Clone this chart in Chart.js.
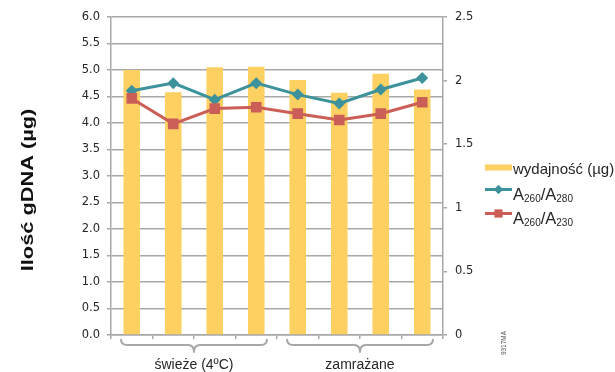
<!DOCTYPE html>
<html lang="pl">
<head>
<meta charset="utf-8">
<title>Ilość gDNA</title>
<script src="https://cdn.jsdelivr.net/npm/chart.js@4/dist/chart.umd.min.js"></script>
<style>
  html, body { margin: 0; padding: 0; background: #ffffff; }
  #wrap { width: 615px; height: 372px; }
</style>
</head>
<body>
<div id="wrap"><canvas id="c" width="615" height="372"></canvas></div>
<script>
// Próbki: 4 świeże (4ºC) i 4 zamrażane
const samples = ['Ś1', 'Ś2', 'Ś3', 'Ś4', 'Z1', 'Z2', 'Z3', 'Z4'];

// Wydajność gDNA (µg) – oś lewa
const yieldUg = [5.00, 4.58, 5.05, 5.06, 4.81, 4.57, 4.93, 4.63];

// Stosunki absorbancji – oś prawa
const ratio260_280 = [1.92, 1.98, 1.85, 1.98, 1.89, 1.82, 1.93, 2.02];
const ratio260_230 = [1.86, 1.66, 1.78, 1.79, 1.74, 1.69, 1.74, 1.83];

// Podpisy grup pod osią X (indeksy pierwszej i ostatniej próbki)
const groupLabels = ['świeże (4ºC)', 'zamrażane'];
const groupFrom = [0, 4];
const groupTo = [3, 7];

const yTitle = 'Ilość gDNA (µg)';
const seriesNames = ['wydajność (µg)', 'A260/A280', 'A260/A230'];

const COL_BAR = '#FDD062';
const COL_TEAL = '#3E929B';
const COL_RED = '#CB5F58';
const COL_AXIS = '#A8A8A8';
const COL_TEXT = '#262626';

Chart.defaults.font.family = '"DejaVu Sans", sans-serif';
Chart.defaults.color = COL_TEXT;

// Legenda z indeksami dolnymi, tytuł osi, klamry grup
const decorations = {
  id: 'decorations',
  afterDraw(chart) {
    const ctx = chart.ctx;
    const x = chart.scales.x;
    const area = chart.chartArea;
    const cat = x.getPixelForValue(1) - x.getPixelForValue(0);

    // klamry i podpisy grup
    ctx.save();
    ctx.strokeStyle = COL_AXIS;
    ctx.lineWidth = 2;
    ctx.lineJoin = 'round';
    const top = area.bottom + 4;
    const mid = area.bottom + 10;
    const tip = area.bottom + 17;
    for (let g = 0; g < groupLabels.length; g++) {
      const x1 = x.getPixelForValue(groupFrom[g]) - cat / 2 + 10;
      const x2 = x.getPixelForValue(groupTo[g]) + cat / 2 - 10;
      const cx = (x1 + x2) / 2;
      ctx.beginPath();
      ctx.moveTo(x1, top);
      ctx.quadraticCurveTo(x1, mid, x1 + 6, mid);
      ctx.lineTo(cx - 6, mid);
      ctx.quadraticCurveTo(cx, mid, cx, tip);
      ctx.quadraticCurveTo(cx, mid, cx + 6, mid);
      ctx.lineTo(x2 - 6, mid);
      ctx.quadraticCurveTo(x2, mid, x2, top);
      ctx.stroke();

      ctx.fillStyle = COL_TEXT;
      ctx.font = '14px "Liberation Sans", Arial, sans-serif';
      ctx.textAlign = 'center';
      ctx.textBaseline = 'alphabetic';
      ctx.fillText(groupLabels[g], cx, 368.5);
    }
    ctx.restore();

    // tytuł osi Y
    ctx.save();
    ctx.translate(28, 190);
    ctx.rotate(-Math.PI / 2);
    ctx.scale(1.28, 1);
    ctx.font = 'bold 17px "Liberation Sans", Arial, sans-serif';
    ctx.fillStyle = '#111111';
    ctx.textAlign = 'center';
    ctx.textBaseline = 'middle';
    ctx.fillText(yTitle, 0, 0);
    ctx.restore();

    // legenda
    ctx.save();
    const lx = 485, lw = 27, tx = 513;
    const ds = chart.data.datasets;
    // słupki
    ctx.fillStyle = ds[0].backgroundColor;
    ctx.fillRect(lx, 164.5, lw, 6);
    ctx.fillStyle = COL_TEXT;
    ctx.font = '15px "Liberation Sans", Arial, sans-serif';
    ctx.textBaseline = 'alphabetic';
    ctx.textAlign = 'left';
    ctx.fillText(ds[0].label, tx, 173.5);

    const rows = [
      { d: ds[1], cy: 189.5, base: 200, style: 'rectRot', r: 4.5 },
      { d: ds[2], cy: 213.5, base: 224, style: 'rect', r: 5.5 }
    ];
    rows.forEach(row => {
      ctx.strokeStyle = row.d.borderColor;
      ctx.lineWidth = 3;
      ctx.beginPath();
      ctx.moveTo(lx, row.cy);
      ctx.lineTo(lx + lw, row.cy);
      ctx.stroke();
      ctx.fillStyle = row.d.borderColor;
      Chart.helpers.drawPoint(ctx, { pointStyle: row.style, radius: row.r, borderWidth: 0 }, lx + lw / 2, row.cy);
      ctx.fill();

      // tekst z indeksami dolnymi: "A260/A280" -> A₂₆₀/A₂₈₀
      const parts = row.d.label.match(/[A-Za-z\/]+|\d+/g);
      let px = tx;
      ctx.fillStyle = COL_TEXT;
      parts.forEach(p => {
        if (/^\d+$/.test(p)) {
          ctx.font = '10px "Liberation Sans", Arial, sans-serif';
          ctx.fillText(p, px, row.base + 2);
        } else {
          ctx.font = '16.5px "Liberation Sans", Arial, sans-serif';
          ctx.fillText(p, px, row.base);
        }
        px += ctx.measureText(p).width;
      });
    });
    ctx.restore();

    // oznaczenie rysunku
    ctx.save();
    ctx.translate(504, 343);
    ctx.rotate(-Math.PI / 2);
    ctx.font = '6.5px "Liberation Sans", Arial, sans-serif';
    ctx.fillStyle = '#555555';
    ctx.textAlign = 'center';
    ctx.textBaseline = 'middle';
    ctx.fillText('9317MA', 0, 0);
    ctx.restore();
  }
};

new Chart(document.getElementById('c'), {
  data: {
    labels: samples,
    datasets: [
      {
        type: 'bar',
        label: seriesNames[0],
        data: yieldUg,
        yAxisID: 'y',
        backgroundColor: COL_BAR,
        borderWidth: 0,
        categoryPercentage: 1.0,
        barPercentage: 0.4,
        order: 3
      },
      {
        type: 'line',
        label: seriesNames[1],
        data: ratio260_280,
        yAxisID: 'y1',
        borderColor: COL_TEAL,
        backgroundColor: COL_TEAL,
        borderWidth: 3,
        tension: 0,
        pointStyle: 'rectRot',
        pointRadius: 6,
        pointBorderWidth: 0,
        pointBackgroundColor: COL_TEAL,
        order: 2
      },
      {
        type: 'line',
        label: seriesNames[2],
        data: ratio260_230,
        yAxisID: 'y1',
        borderColor: COL_RED,
        backgroundColor: COL_RED,
        borderWidth: 3,
        tension: 0,
        pointStyle: 'rect',
        pointRadius: 7.5,
        pointBorderWidth: 0,
        pointBackgroundColor: COL_RED,
        order: 1
      }
    ]
  },
  options: {
    responsive: false,
    animation: false,
    layout: { padding: { top: 17, right: 132, bottom: 0, left: 0 } },
    plugins: {
      legend: { display: false },
      tooltip: { enabled: false }
    },
    scales: {
      x: {
        type: 'category',
        offset: true,
        grid: {
          offset: true,
          drawOnChartArea: false,
          drawTicks: true,
          tickLength: 4,
          color: COL_AXIS,
          lineWidth: 1.5
        },
        border: { display: true, color: COL_AXIS, width: 1.5 },
        ticks: { display: false },
        afterFit(s) { s.height = 37; }
      },
      y: {
        position: 'left',
        min: 0,
        max: 6,
        ticks: {
          stepSize: 0.5,
          padding: 7,
          font: { size: 11.5 },
          color: COL_TEXT,
          callback: v => Number(v).toFixed(1)
        },
        grid: { color: COL_AXIS, lineWidth: 1.5, tickLength: 4 },
        border: { display: true, color: COL_AXIS, width: 1.5 },
        afterFit(s) { s.width = 111; }
      },
      y1: {
        position: 'right',
        min: 0,
        max: 2.5,
        ticks: {
          stepSize: 0.5,
          padding: 8,
          font: { size: 11.5 },
          color: COL_TEXT,
          callback: v => String(Number(v))
        },
        grid: { drawOnChartArea: false, color: COL_AXIS, lineWidth: 1.5, tickLength: 4 },
        border: { display: true, color: COL_AXIS, width: 1.5 },
        afterFit(s) { s.width = 40; }
      }
    }
  },
  plugins: [decorations]
});
</script>
</body>
</html>
